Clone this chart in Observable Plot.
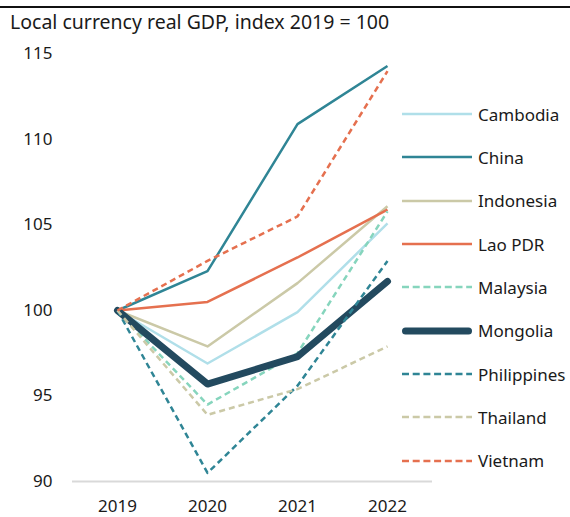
<!DOCTYPE html>
<html>
<head>
<meta charset="utf-8">
<script src="https://cdn.jsdelivr.net/npm/d3@7"></script>
<script src="https://cdn.jsdelivr.net/npm/@observablehq/plot@0.6"></script>
<style>
  html, body { margin: 0; padding: 0; background: #fff; }
  #wrap { position: relative; width: 570px; height: 517px; overflow: hidden; font-family: "Noto Sans", sans-serif; color: #1a1a1a; }
  #topline { position: absolute; left: 0; top: 6px; width: 570px; height: 2px; background: #111; }
  #title { position: absolute; left: 10px; top: 8px; font-size: 19.5px; line-height: 28px; white-space: nowrap; }
  #chart { position: absolute; left: 0; top: 40px; }
  #legend { position: absolute; left: 0; top: 0; }
  .row { position: absolute; left: 402px; height: 20px; display: flex; align-items: center; }
  .row span { margin-left: 6px; font-size: 17px; white-space: nowrap; }
</style>
</head>
<body>
<div id="wrap">
  <div id="topline"></div>
  <div id="title">Local currency real GDP, index 2019 = 100</div>
  <div id="chart"></div>
  <div id="legend"></div>
</div>
<script>
const years = ["2019", "2020", "2021", "2022"];
const countries = ["Cambodia", "China", "Indonesia", "Lao PDR", "Malaysia", "Mongolia", "Philippines", "Thailand", "Vietnam"];
const cambodia    = [100, 96.9, 99.9, 105.1];
const china       = [100, 102.3, 110.9, 114.3];
const indonesia   = [100, 97.9, 101.6, 106.1];
const laoPDR      = [100, 100.5, 103.1, 105.9];
const malaysia    = [100, 94.5, 97.5, 105.8];
const mongolia    = [100, 95.7, 97.3, 101.7];
const philippines = [100, 90.5, 95.6, 102.9];
const thailand    = [100, 93.9, 95.4, 97.9];
const vietnam     = [100, 102.9, 105.5, 114.0];
const yTicks = [90, 95, 100, 105, 110, 115];

const seriesValues = [cambodia, china, indonesia, laoPDR, malaysia, mongolia, philippines, thailand, vietnam];
const colors = ["#b0dfe9", "#2f8595", "#cbc9a7", "#e5704f", "#86d5bd", "#234a5f", "#2f8595", "#cbc9a7", "#e5704f"];
const dashed = [false, false, false, false, true, false, true, true, true];
const widths = [2.5, 2.5, 2.5, 2.5, 2.5, 7, 2.5, 2.5, 2.5];

const data = countries.map((c, i) => years.map((y, j) => ({country: c, year: y, value: seriesValues[i][j]})));

const lineMarks = data.map((d, i) => Plot.line(d, {
  x: "year", y: "value",
  stroke: colors[i],
  strokeWidth: widths[i],
  strokeDasharray: dashed[i] ? "6,4" : null,
  strokeLinecap: i === 5 ? "round" : "butt",
  strokeLinejoin: "round"
}));

const plot = Plot.plot({
  width: 570,
  height: 477,
  marginTop: 13.5,
  marginBottom: 36,
  marginLeft: 72,
  marginRight: 138,
  style: {fontFamily: "Noto Sans, sans-serif", fontSize: "17px", color: "#1a1a1a", background: "white"},
  x: {type: "point", domain: years, padding: 0.5, label: null},
  y: {domain: [90, 115], ticks: yTicks, label: null},
  marks: [
    Plot.axisY({ticks: yTicks, tickSize: 0, tickPadding: 20, label: null, fontSize: 17}),
    Plot.axisX({tickSize: 0, tickPadding: 18, label: null, fontSize: 17}),
    Plot.ruleY([90], {stroke: "#d9d9d9", strokeWidth: 2}),
    ...lineMarks
  ]
});
document.getElementById("chart").appendChild(plot);

const rowY = [114, 157.3, 200.6, 244, 287.3, 330.6, 374, 417.3, 460.6];
const legend = d3.select("#legend");
countries.forEach((c, i) => {
  const row = legend.append("div").attr("class", "row").style("top", (rowY[i] - 10) + "px");
  const svg = row.append("svg").attr("width", 70).attr("height", 12);
  svg.append("line")
    .attr("x1", i === 5 ? 3.5 : 0).attr("x2", i === 5 ? 66.5 : 70)
    .attr("y1", 6).attr("y2", 6)
    .attr("stroke", colors[i])
    .attr("stroke-width", widths[i])
    .attr("stroke-linecap", i === 5 ? "round" : "butt")
    .attr("stroke-dasharray", dashed[i] ? "7,3.7" : null);
  row.append("span").text(c);
});
</script>
</body>
</html>
